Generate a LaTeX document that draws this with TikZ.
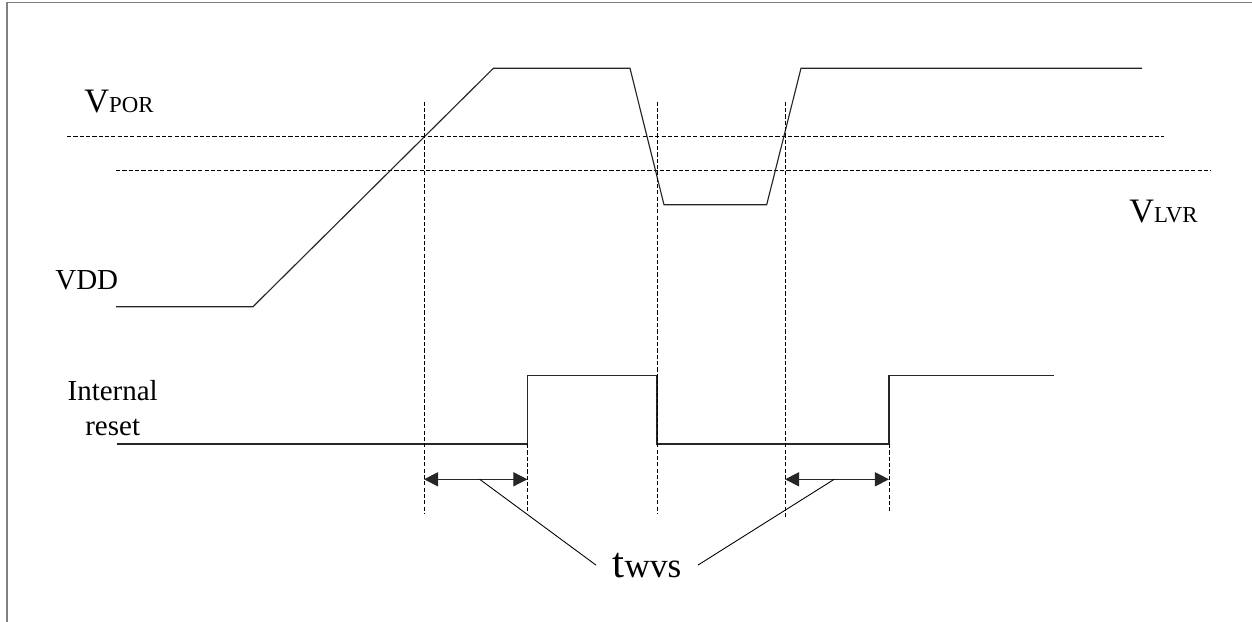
\documentclass[tikz,border=0pt]{standalone}
\usepackage{fontspec}
\setmainfont{Liberation Serif}
\usetikzlibrary{arrows.meta}
\newcommand{\biglbl}[2]{{\fontsize{19.5}{21}\selectfont #1}{\fontsize{13}{15}\selectfont #2}}
\begin{document}
\begin{tikzpicture}[x=0.02cm,y=-0.02cm,
	wave/.style={line width=0.65pt, black!85},
	guide/.style={line width=0.45pt, dash pattern=on 2.4pt off 1.2pt},
	tip/.style={{Triangle[length=8pt,width=8pt]}-{Triangle[length=8pt,width=8pt]}},
	lbl/.style={anchor=base west, inner sep=0pt, font=\fontsize{16.5}{19.4}\selectfont}]
	\useasboundingbox (0,0) rectangle (1252,622);
	\draw [gray, line width=1.1pt] (7,700) -- (7,2.5) -- (1300,2.5);
	
	% thresholds
	\draw [guide] (67,136.3) -- (1164,136.3);
	\draw [guide] (116,170.7) -- (1211,170.7);
	\node [lbl] (vpor) at (84,112.7) {\biglbl{V}{POR}};
	\node [lbl] (vlvr) at (1129,222.3) {\biglbl{V}{LVR}};
	
	% VDD
	\node [lbl] (vdd) at (55,289.3) {VDD};
	\draw [wave] (116,306.7) -- (253,306.7) -- (493.4,68.3) -- (630,68.3) -- (664,204.7)
		-- (766.7,204.7) -- (801,68.3) -- (1142,68.3);
	
	% internal reset
	\node [lbl, anchor=base, align=center] (rst) at (112.7,435) {Internal\\reset};
	\draw [wave] (116.7,444) -- (527.4,444) -- (527.4,375.7) -- (657,375.7) -- (657,444)
		-- (889,444) -- (889,375.7) -- (1054,375.7);
	
	\foreach \x in {424,657}
	\draw [guide] (\x,101.7) -- (\x,513);
	\draw [guide] (785,101.7) -- (785,519);
	\foreach \x in {527.4,889}
	\draw [guide] (\x,444) -- (\x,513);
	
	% twvs
	\coordinate (a1) at (424,479.3);
	\coordinate (b1) at (527.4,479.3);
	\coordinate (a2) at (785,479.3);
	\coordinate (b2) at (889,479.3);
	\coordinate (m1) at (479.7,479.3);
	\coordinate (m2) at (834.2,479.3);
	\draw [wave, tip] (a1) -- (b1);
	\draw [wave, tip] (a2) -- (b2);
	\node [anchor=base west, inner sep=0pt, outer sep=9.5pt] (twvs) at (596,577)
		{{\fontsize{24.5}{26}\selectfont t}{\fontsize{20}{22}\selectfont wvs}};
	\draw [line width=0.5pt] (m1) -- (twvs.west);
	\draw [line width=0.5pt] (m2) -- (twvs.east);
\end{tikzpicture}
\end{document}
